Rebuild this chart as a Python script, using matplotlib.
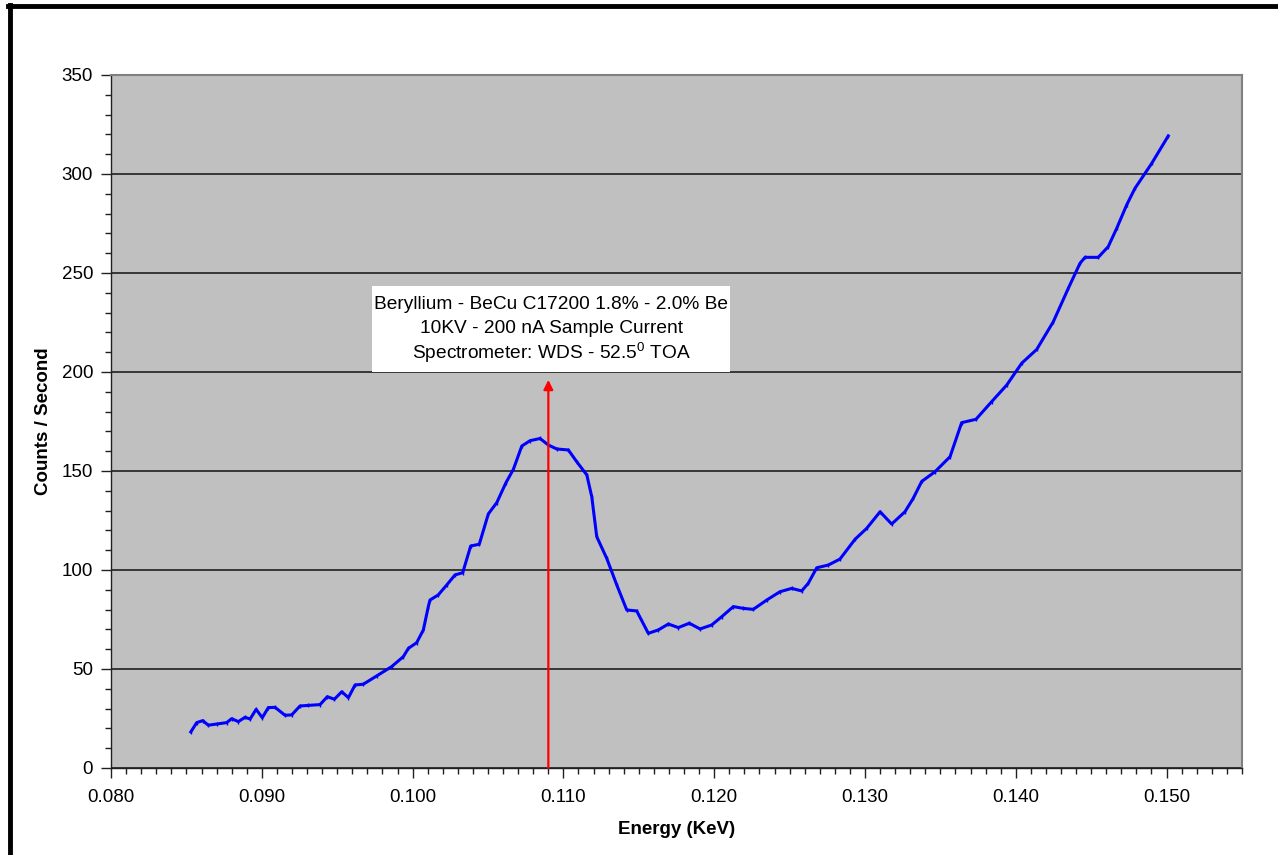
import matplotlib
matplotlib.use('Agg')
import matplotlib.pyplot as plt
from matplotlib.lines import Line2D
from matplotlib.patches import Rectangle
from matplotlib.ticker import MultipleLocator, FormatStrFormatter

plt.rcParams['font.family'] = ['Liberation Sans', 'DejaVu Sans']
plt.rcParams['mathtext.fontset'] = 'custom'
plt.rcParams['mathtext.rm'] = 'Liberation Sans'
plt.rcParams['mathtext.default'] = 'regular'

# spectrum (energy in KeV, counts per second)
energy = [0.08529, 0.08568, 0.08608, 0.08645, 0.08701, 0.08767, 0.08800, 0.08844,
          0.08889, 0.08922, 0.08962, 0.09003, 0.09043, 0.09088, 0.09154, 0.09198,
          0.09253, 0.09308, 0.09386, 0.09434, 0.09481, 0.09530, 0.09574, 0.09618,
          0.09673, 0.09762, 0.09861, 0.09938, 0.09972, 0.10027, 0.10071, 0.10104,
          0.10115, 0.10170, 0.10226, 0.10281, 0.10332, 0.10385, 0.10442, 0.10502,
          0.10558, 0.10619, 0.10668, 0.10724, 0.10779, 0.10845, 0.10900, 0.10956,
          0.11033, 0.11088, 0.11155, 0.11188, 0.11221, 0.11287, 0.11354, 0.11420,
          0.11486, 0.11563, 0.11629, 0.11696, 0.11762, 0.11835, 0.11906, 0.11983,
          0.12050, 0.12127, 0.12193, 0.12259, 0.12348, 0.12436, 0.12514, 0.12580,
          0.12624, 0.12680, 0.12757, 0.12834, 0.12934, 0.13011, 0.13100, 0.13177,
          0.13265, 0.13320, 0.13376, 0.13464, 0.13564, 0.13641, 0.13736, 0.13840,
          0.13940, 0.14039, 0.14139, 0.14249, 0.14348, 0.14426, 0.14459, 0.14547,
          0.14613, 0.14669, 0.14735, 0.14790, 0.14901, 0.15011]
counts = [18.2, 22.9, 23.9, 21.6, 22.2, 22.9, 24.9, 23.4,
          25.6, 24.7, 29.6, 25.4, 30.5, 30.6, 26.6, 26.8,
          31.3, 31.6, 32.0, 36.0, 34.7, 38.5, 35.5, 41.9,
          42.3, 46.5, 51.2, 56.2, 60.4, 63.3, 69.7, 81.5,
          84.8, 87.4, 92.4, 97.5, 98.6, 112.1, 113.0, 128.3,
          134.0, 144.1, 150.8, 162.6, 165.3, 166.4, 163.1, 161.1,
          160.6, 154.7, 148.0, 137.0, 116.8, 105.9, 92.4, 79.8,
          79.3, 68.0, 69.7, 72.7, 70.9, 73.1, 70.2, 72.2,
          76.4, 81.5, 80.6, 80.1, 84.8, 89.0, 90.7, 89.4,
          93.3, 101.1, 102.5, 105.5, 115.5, 121.0, 129.4, 123.2,
          129.4, 136.2, 144.7, 149.6, 157.2, 174.4, 176.1, 185.0,
          193.4, 204.4, 211.4, 225.4, 242.2, 254.9, 257.9, 257.9,
          263.3, 272.5, 284.3, 292.7, 305.3, 319.2]

# Be K-alpha marker
marker_energy = 0.1090
marker_top = 196

note_lines = ['Beryllium - BeCu C17200 1.8% - 2.0% Be',
              '10KV - 200 nA Sample Current',
              'Spectrometer: WDS - 52.5$^0$ TOA']

fig = plt.figure(figsize=(12.78, 8.55), dpi=100)
ax = fig.add_axes([0.0869, 0.1018, 0.8849, 0.8105])
ax.set_facecolor('#c0c0c0')

ax.set_xlim(0.080, 0.155)
ax.set_ylim(0, 350)
ax.xaxis.set_major_locator(MultipleLocator(0.01))
ax.xaxis.set_minor_locator(MultipleLocator(0.001))
ax.xaxis.set_major_formatter(FormatStrFormatter('%.3f'))
ax.yaxis.set_major_locator(MultipleLocator(50))
ax.yaxis.set_minor_locator(MultipleLocator(10))

ax.grid(axis='y', which='major', color='#202020', lw=1.2, zorder=1)
ax.set_axisbelow(True)

for s in ['top', 'right']:
    ax.spines[s].set_color('#808080')
    ax.spines[s].set_linewidth(1.5)
for s in ['left', 'bottom']:
    ax.spines[s].set_color('#202020')
    ax.spines[s].set_linewidth(1.0)

ax.tick_params(which='major', direction='out', length=7, width=1, color='#202020',
               labelsize=13.5, pad=6)
ax.tick_params(which='minor', direction='out', length=4, width=1, color='#202020')
ax.tick_params(axis='x', pad=8)

ax.plot(energy, counts, color='#0000ff', lw=2.2, marker='|', ms=3, mew=1,
        zorder=4, solid_joinstyle='round')

ax.annotate('', xy=(marker_energy, marker_top), xytext=(marker_energy, 0),
            arrowprops=dict(arrowstyle='-|>', color='#ff0000', lw=1.6,
                            mutation_scale=14, shrinkA=0, shrinkB=0),
            zorder=5)

ax.add_patch(Rectangle((0.2308, 0.5714), 0.3165, 0.1241, transform=ax.transAxes,
                       facecolor='white', edgecolor='none', zorder=6))
for i, line in enumerate(note_lines):
    ax.text(0.3891, 0.6695 - i * 0.0355, line, transform=ax.transAxes,
            ha='center', va='center', fontsize=13.8, zorder=7)

ax.set_xlabel('Energy (KeV)', fontsize=13.5, fontweight='bold', labelpad=11)
ax.set_ylabel('Counts / Second', fontsize=13.5, fontweight='bold', labelpad=7)

# outer frame (top and left only)
fig.add_artist(Line2D([8 / 1278, 1], [1 - 6.5 / 855, 1 - 6.5 / 855],
                      transform=fig.transFigure, color='black', lw=3.5))
fig.add_artist(Line2D([9.5 / 1278, 9.5 / 1278], [0, 1 - 5 / 855],
                      transform=fig.transFigure, color='black', lw=3.5))

fig.savefig('out.png', dpi=100)
